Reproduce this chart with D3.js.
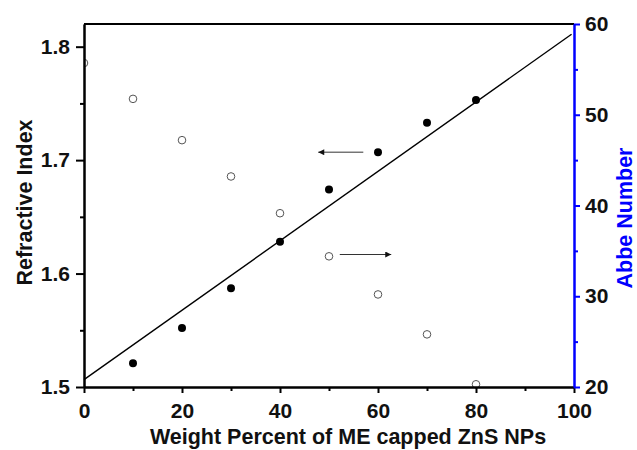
<!DOCTYPE html>
<html>
<head>
<meta charset="utf-8">
<script src="https://cdn.jsdelivr.net/npm/d3@7"></script>
<style>
  body { margin: 0; background: #fff; }
  svg { display: block; font-family: "Liberation Sans", Arial, sans-serif; font-weight: bold; }
</style>
</head>
<body>
<svg id="chart" width="637" height="450"></svg>
<script>
// data
const weight = [10, 20, 30, 40, 50, 60, 70, 80];
const refIndex = [1.521, 1.552, 1.587, 1.628, 1.674, 1.707, 1.733, 1.753];
const abbeWeight = [0, 10, 20, 30, 40, 50, 60, 70, 80];
const abbe = [55.7, 51.75, 47.2, 43.2, 39.15, 34.4, 30.2, 25.8, 20.3];
// straight guide line through the refractive index points
const lineX = [0, 99.5];
const lineY = [1.5065, 1.811];

const xTicks = [0, 20, 40, 60, 80, 100];
const xMinor = [10, 30, 50, 70, 90];
const leftTicks = [1.5, 1.6, 1.7, 1.8];
const leftMinor = [1.55, 1.65, 1.75];
const rightTicks = [20, 30, 40, 50, 60];
const rightMinor = [25, 35, 45, 55];

const svg = d3.select("#chart");
const plotLeft = 84, plotRight = 574, plotTop = 24, plotBottom = 387;

const x = d3.scaleLinear().domain([0, 100]).range([plotLeft, plotRight]);
const yL = d3.scaleLinear().domain([1.5, 1.82]).range([plotBottom, plotTop]);
const yR = d3.scaleLinear().domain([20, 60]).range([plotBottom, plotTop]);

const defs = svg.append("defs");
// arrow heads
defs.append("marker")
  .attr("id", "head")
  .attr("viewBox", "0 0 10 10")
  .attr("refX", 10).attr("refY", 5)
  .attr("markerWidth", 8).attr("markerHeight", 6)
  .attr("markerUnits", "userSpaceOnUse")
  .attr("orient", "auto")
  .append("path")
  .attr("d", "M0,0L10,5L0,10Z")
  .attr("fill", "#111");

// points are cut at the plot frame
defs.append("clipPath").attr("id", "plotClip")
  .append("rect")
  .attr("x", plotLeft + 1).attr("y", plotTop)
  .attr("width", plotRight - plotLeft - 1)
  .attr("height", plotBottom - plotTop + 6);

// guide line
svg.append("line")
  .attr("x1", x(lineX[0])).attr("y1", yL(lineY[0]))
  .attr("x2", x(lineX[1])).attr("y2", yL(lineY[1]))
  .attr("stroke", "#000").attr("stroke-width", 1.4);

// refractive index (filled)
svg.append("g").selectAll("circle")
  .data(weight)
  .enter().append("circle")
  .attr("cx", d => x(d))
  .attr("cy", (d, i) => yL(refIndex[i]))
  .attr("r", 4)
  .attr("fill", "#000");

// abbe number (open)
svg.append("g")
  .attr("clip-path", "url(#plotClip)")
  .selectAll("circle")
  .data(abbeWeight)
  .enter().append("circle")
  .attr("cx", d => x(d))
  .attr("cy", (d, i) => yR(abbe[i]))
  .attr("r", 3.8)
  .attr("fill", "none")
  .attr("stroke", "#555")
  .attr("stroke-width", 1);

// arrows pointing to the matching axis
svg.append("line")
  .attr("x1", x(57)).attr("y1", yL(1.707))
  .attr("x2", x(47.8)).attr("y2", yL(1.707))
  .attr("stroke", "#333").attr("stroke-width", 1)
  .attr("marker-end", "url(#head)");

svg.append("line")
  .attr("x1", x(52.2)).attr("y1", yR(34.6))
  .attr("x2", x(62.7)).attr("y2", yR(34.6))
  .attr("stroke", "#333").attr("stroke-width", 1)
  .attr("marker-end", "url(#head)");

// top frame line
svg.append("line")
  .attr("x1", plotLeft).attr("x2", plotRight)
  .attr("y1", plotTop).attr("y2", plotTop)
  .attr("stroke", "#000").attr("stroke-width", 2);

function styleAxis(g, color) {
  g.select(".domain").attr("stroke", color).attr("stroke-width", 2);
  g.selectAll(".tick line").attr("stroke", color).attr("stroke-width", 2);
  g.selectAll(".tick text")
    .attr("fill", "#111")
    .style("font-size", "21px")
    .style("font-family", "Liberation Sans, Arial, sans-serif")
    .style("font-weight", "bold");
}

// bottom axis
svg.append("g")
  .attr("transform", `translate(0,${plotBottom})`)
  .call(d3.axisBottom(x).tickValues(xMinor).tickSize(4).tickSizeOuter(0).tickFormat(""))
  .call(g => styleAxis(g, "#000"));
svg.append("g")
  .attr("transform", `translate(0,${plotBottom})`)
  .call(d3.axisBottom(x).tickValues(xTicks).tickSize(6).tickSizeOuter(0).tickPadding(10))
  .call(g => styleAxis(g, "#000"));

// left axis
svg.append("g")
  .attr("transform", `translate(${plotLeft},0)`)
  .call(d3.axisLeft(yL).tickValues(leftMinor).tickSize(4).tickSizeOuter(0).tickFormat(""))
  .call(g => styleAxis(g, "#000"));
svg.append("g")
  .attr("transform", `translate(${plotLeft},0)`)
  .call(d3.axisLeft(yL).tickValues(leftTicks).tickSize(8).tickSizeOuter(0).tickPadding(6).tickFormat(d3.format(".1f")))
  .call(g => styleAxis(g, "#000"));

// right axis (blue)
svg.append("g")
  .attr("transform", `translate(${plotRight},0)`)
  .call(d3.axisRight(yR).tickValues(rightMinor).tickSize(4).tickSizeOuter(0).tickFormat(""))
  .call(g => styleAxis(g, "#0000ff"));
svg.append("g")
  .attr("transform", `translate(${plotRight},0)`)
  .call(d3.axisRight(yR).tickValues(rightTicks).tickSize(6).tickSizeOuter(0).tickPadding(5))
  .call(g => styleAxis(g, "#0000ff"));

// axis titles
svg.append("text")
  .attr("x", 348).attr("y", 444)
  .attr("text-anchor", "middle")
  .attr("fill", "#111")
  .style("font-size", "21.5px")
  .text("Weight Percent of ME capped ZnS NPs");

svg.append("text")
  .attr("transform", "translate(32,202.5) rotate(-90)")
  .attr("text-anchor", "middle")
  .attr("fill", "#111")
  .style("font-size", "21.5px")
  .text("Refractive Index");

svg.append("text")
  .attr("transform", "translate(632,218) rotate(-90)")
  .attr("text-anchor", "middle")
  .attr("fill", "#0000ff")
  .style("font-size", "21.5px")
  .text("Abbe Number");
</script>
</body>
</html>
